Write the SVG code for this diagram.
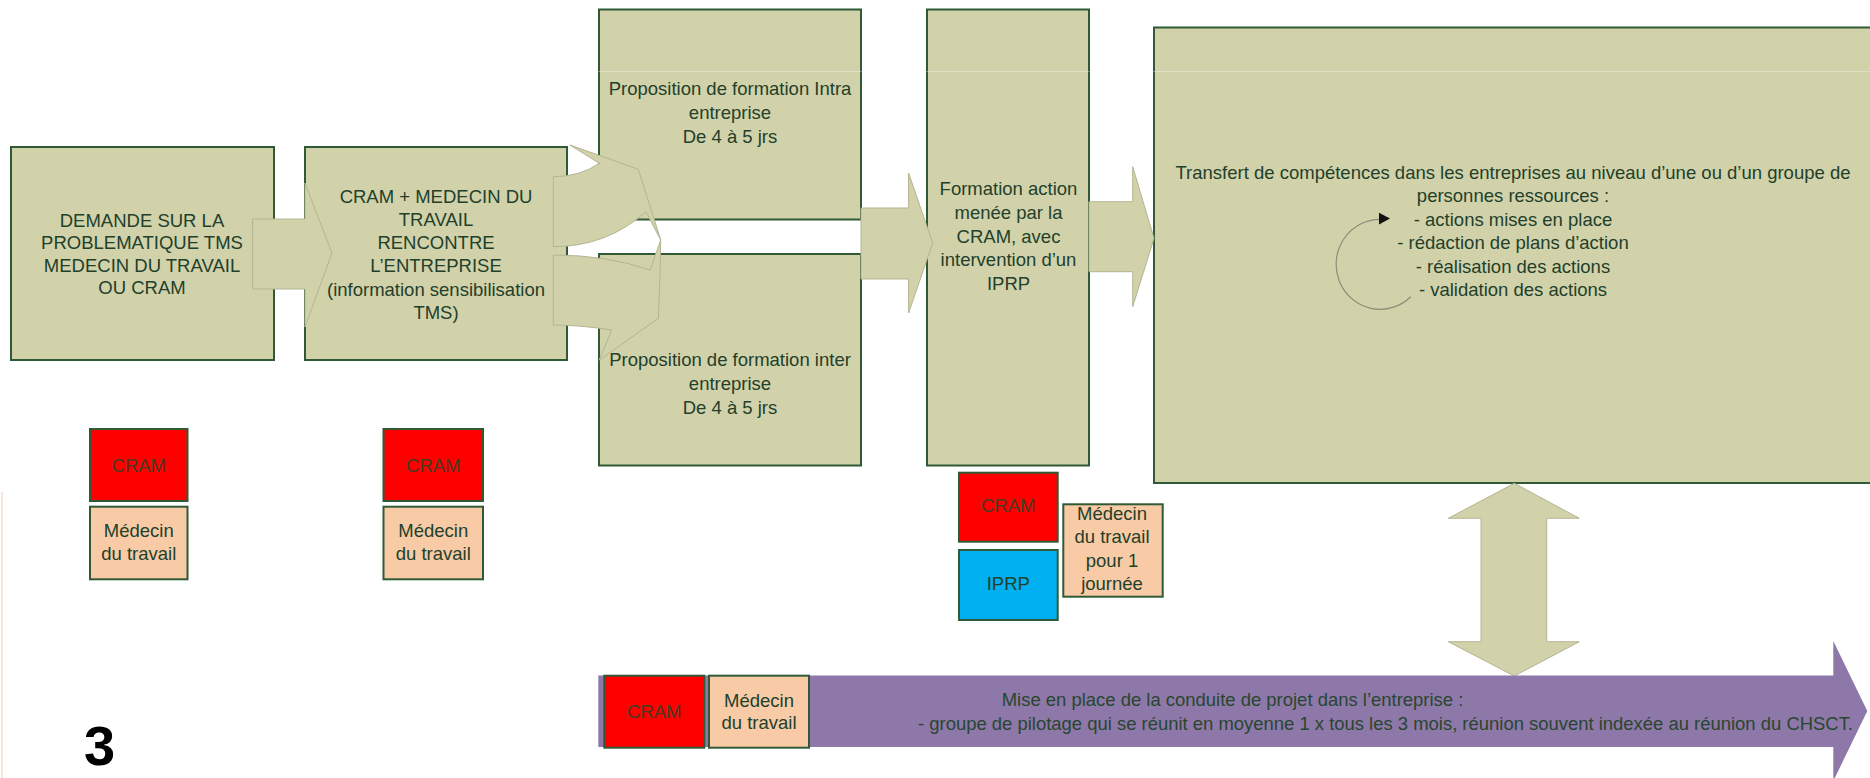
<svg xmlns="http://www.w3.org/2000/svg" width="1870" height="778" viewBox="0 0 1870 778">
<defs>
<style>
.box{fill:#d2d2aa;stroke:#2f5a35;stroke-width:2}
.cram{fill:#ff0000;stroke:#2f5a35;stroke-width:2}
.med{fill:#f8cba6;stroke:#2f5a35;stroke-width:2}
.iprp{fill:#00b0f0;stroke:#2f5a35;stroke-width:2}
.arr{fill:#d2d2aa;stroke:#b4b494;stroke-width:1}
.t{font-family:"Liberation Sans",Arial,sans-serif;font-size:18.5px;fill:#22402a;text-anchor:middle}
.tr{font-family:"Liberation Sans",Arial,sans-serif;font-size:18.5px;fill:#4a3a22;text-anchor:middle}
.tp{font-family:"Liberation Sans",Arial,sans-serif;font-size:18.5px;fill:#28462f}
</style>
</defs>
<rect width="1870" height="778" fill="#ffffff"/>
<line x1="2" y1="492" x2="2" y2="778" stroke="#f6dccb" stroke-width="1.5"/>

<g id="n-demande">
<rect class="box" x="11" y="147" width="263" height="213"/>
<text class="t" x="142" y="226.7">DEMANDE SUR LA</text>
<text class="t" x="142" y="249.2">PROBLEMATIQUE TMS</text>
<text class="t" x="142" y="271.7">MEDECIN DU TRAVAIL</text>
<text class="t" x="142" y="294.2">OU CRAM</text>
</g>

<g id="n-rencontre">
<rect class="box" x="305" y="147" width="262" height="213"/>
<text class="t" x="436" y="202.7">CRAM + MEDECIN DU</text>
<text class="t" x="436" y="225.9">TRAVAIL</text>
<text class="t" x="436" y="249.1">RENCONTRE</text>
<text class="t" x="436" y="272.3">L’ENTREPRISE</text>
<text class="t" x="436" y="295.5">(information sensibilisation</text>
<text class="t" x="436" y="318.7">TMS)</text>
</g>

<g id="n-intra">
<rect class="box" x="599" y="9.5" width="262" height="210"/>
<text class="t" x="730" y="95">Proposition de formation Intra</text>
<text class="t" x="730" y="119">entreprise</text>
<text class="t" x="730" y="143">De 4 à 5 jrs</text>
</g>

<g id="n-inter">
<rect class="box" x="599" y="254" width="262" height="211.5"/>
<text class="t" x="730" y="365.5">Proposition de formation inter</text>
<text class="t" x="730" y="389.5">entreprise</text>
<text class="t" x="730" y="413.5">De 4 à 5 jrs</text>
</g>

<g id="n-formation">
<rect class="box" x="927" y="9.5" width="162" height="456"/>
<text class="t" x="1008.5" y="195">Formation action</text>
<text class="t" x="1008.5" y="218.8">menée par la</text>
<text class="t" x="1008.5" y="242.5">CRAM, avec</text>
<text class="t" x="1008.5" y="266.3">intervention d’un</text>
<text class="t" x="1008.5" y="290">IPRP</text>
</g>

<g id="n-transfert">
<rect class="box" x="1154" y="27.5" width="740" height="455.5"/>
<text class="t" x="1513" y="178.5">Transfert de compétences dans les entreprises au niveau d’une ou d’un groupe de</text>
<text class="t" x="1513" y="202">personnes ressources :</text>
<text class="t" x="1513" y="225.5">- actions mises en place</text>
<text class="t" x="1513" y="249">- rédaction de plans d’action</text>
<text class="t" x="1513" y="272.5">- réalisation des actions</text>
<text class="t" x="1513" y="296">- validation des actions</text>
<path d="M1410.7 296.7 A44 45 0 1 1 1380 219.3" fill="none" stroke="#8c8c78" stroke-width="1.2"/>
<polygon points="1379,212.7 1390,218.6 1379,224.5" fill="#111111"/>
</g>
<line x1="598" y1="71.5" x2="1870" y2="71.5" stroke="#ffffff" stroke-opacity="0.3" stroke-width="1"/>

<g id="n-cram1">
<rect class="cram" x="90" y="429" width="97.5" height="72"/>
<text class="tr" x="138.8" y="471.5">CRAM</text>
</g>
<g id="n-med1">
<rect class="med" x="90" y="506.7" width="97.5" height="72.6"/>
<text class="t" x="138.8" y="536.5">Médecin</text>
<text class="t" x="138.8" y="560">du travail</text>
</g>
<g id="n-cram2">
<rect class="cram" x="383.5" y="429" width="99.5" height="72"/>
<text class="tr" x="433.3" y="471.5">CRAM</text>
</g>
<g id="n-med2">
<rect class="med" x="383.5" y="506.7" width="99.5" height="72.6"/>
<text class="t" x="433.3" y="536.5">Médecin</text>
<text class="t" x="433.3" y="560">du travail</text>
</g>
<g id="n-cram3">
<rect class="cram" x="959" y="472.7" width="98.7" height="69"/>
<text class="tr" x="1008.3" y="512">CRAM</text>
</g>
<g id="n-iprp">
<rect class="iprp" x="959" y="550" width="98.7" height="70"/>
<text class="t" x="1008.3" y="590">IPRP</text>
</g>
<g id="n-med3">
<rect class="med" x="1063.3" y="504.3" width="99.4" height="92.4"/>
<text class="t" x="1112" y="519.5">Médecin</text>
<text class="t" x="1112" y="543">du travail</text>
<text class="t" x="1112" y="566.5">pour 1</text>
<text class="t" x="1112" y="590">journée</text>
</g>

<g id="connectors">
<polygon class="arr" points="252.6,219 305,219 305,183 332,253 305,327 305,289 252.6,289"/>
<path class="arr" d="M553.3 176.7 Q580 176.7 599.3 163.3 L570 145 L638.3 169.3 L660.7 240 L646 211.7 Q606.7 246.7 553.3 246.7 Z"/>
<path class="arr" d="M553.3 255 Q606.7 255 650 270 L660.7 240 L660 276.7 L658.3 318.3 L599.3 360 L611.7 330 Q580 325 553.3 325 Z"/>
<polygon class="arr" points="861,208 908.6,208 908.6,173 932.7,243 908.6,313 908.6,279 861,279"/>
<polygon class="arr" points="1089,201.7 1132.7,201.7 1132.7,166.7 1154,238.3 1132.7,306.7 1132.7,271.7 1089,271.7"/>
<polygon class="arr" points="1514.3,483.3 1579.3,518.3 1546.7,518.3 1546.7,641.7 1579.3,641.7 1514.3,676 1448.3,641.7 1481,641.7 1481,518.3 1448.3,518.3"/>
</g>

<g id="n-projet">
<polygon points="598.3,675.5 1833.3,675.5 1833.3,641 1867.3,711 1833.3,781 1833.3,747 598.3,747" fill="#8e78a9"/>
<text class="tp" x="1001.7" y="705.5" textLength="461.6" lengthAdjust="spacingAndGlyphs">Mise en place de la conduite de projet dans l’entreprise :</text>
<text class="tp" x="918" y="730" textLength="935" lengthAdjust="spacingAndGlyphs">- groupe de pilotage qui se réunit en moyenne 1 x tous les 3 mois, réunion souvent indexée au réunion du CHSCT.</text>
</g>
<g id="n-cram4">
<rect class="cram" x="604.3" y="675.7" width="100" height="72"/>
<text class="tr" x="654.3" y="718">CRAM</text>
</g>
<g id="n-med4">
<rect class="med" x="709" y="675.7" width="100" height="72"/>
<text class="t" x="759" y="706.7">Médecin</text>
<text class="t" x="759" y="729.3">du travail</text>
</g>

<text x="84" y="765" font-family="Liberation Sans,Arial,sans-serif" font-weight="bold" font-size="56" fill="#000000">3</text>
</svg>
